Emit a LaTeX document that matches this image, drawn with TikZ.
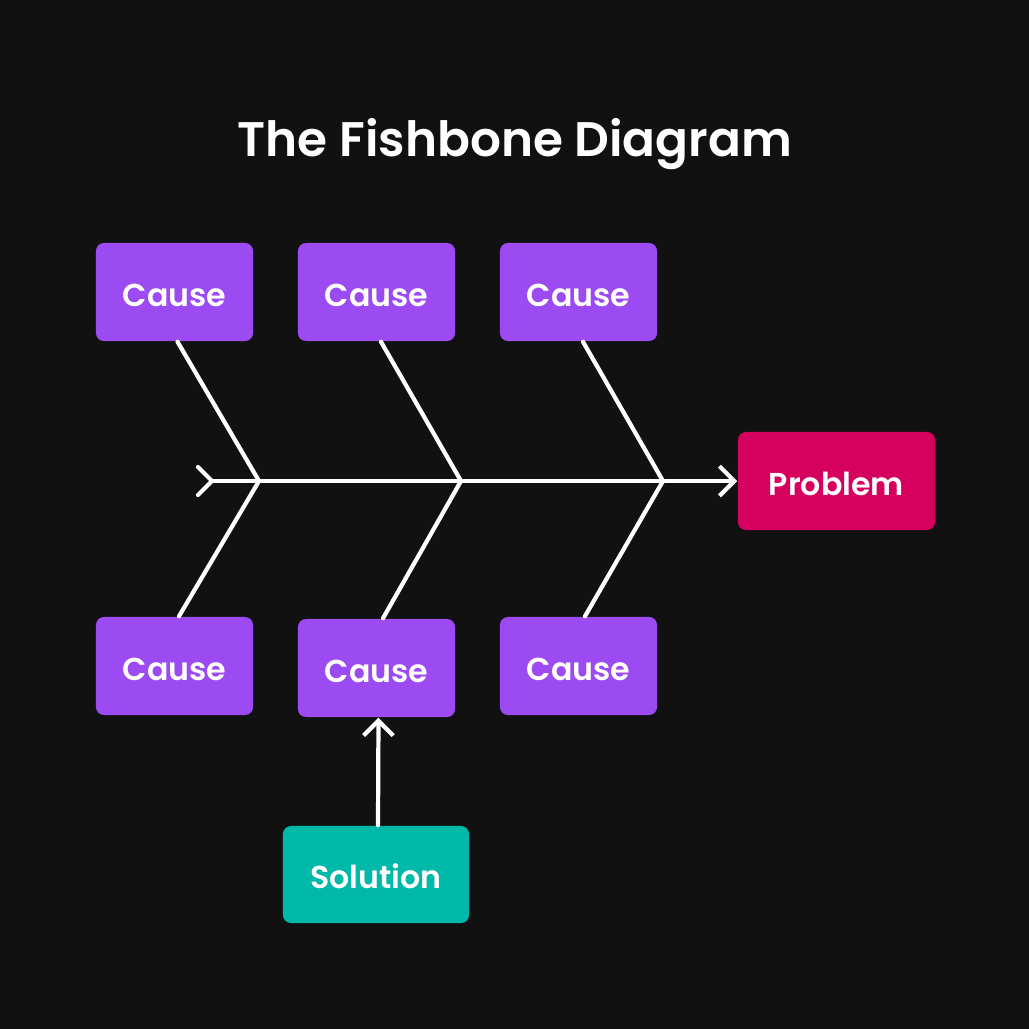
\documentclass[tikz,border=0pt]{standalone}
\usepackage{fontspec}
\setmainfont{Poppins}[BoldFont={* SemiBold}]
\usetikzlibrary{arrows.meta}
\definecolor{bg}{HTML}{111111}
\definecolor{causec}{HTML}{9C4AF2}
\definecolor{probc}{HTML}{D6005F}
\definecolor{solc}{HTML}{00B9A9}
\begin{document}
\begin{tikzpicture}[x=0.01cm,y=-0.01cm,
  box/.style={rounded corners=0.08cm, text=white, font=\fontsize{9pt}{11pt}\selectfont\bfseries, inner sep=0pt, text height=0.28cm, text depth=0pt},
  bone/.style={white, line width=1.2pt, line cap=round, line join=round},
  tip/.style={-{Straight Barb[length=4.2pt,width=8.4pt,line width=1.2pt]}}]
\fill[bg] (0,0) rectangle (1029,1029);
\useasboundingbox (0,0) rectangle (1029,1029);
\node[text=white, font=\fontsize{13.8pt}{16pt}\selectfont\bfseries] (title) at (515,144) {The Fishbone Diagram};
% boxes
\foreach \n/\x/\y in {t1/174.5/292, t2/376.5/292, t3/578.5/292, b1/174.5/666, b2/376.5/668, b3/578.5/666}{
  \node[box, fill=causec, minimum width=1.57cm, minimum height=0.98cm] (\n) at (\x,\y) {Cause};
}
\node[box, fill=probc, minimum width=1.97cm, minimum height=0.98cm] (prob) at (836.5,481) {Problem};
\node[box, fill=solc, minimum width=1.86cm, minimum height=0.97cm] (sol) at (376,874.5) {Solution};
% spine
\coordinate (tail) at (212,481);
\coordinate (j1) at (259,481);
\coordinate (j2) at (461,481);
\coordinate (j3) at (663,481);
\coordinate (ta) at (198,467);
\coordinate (tb) at (198,495);
\draw[bone] (ta) -- (tail) -- (tb);
\draw[bone, tip] (tail) -- (prob.west);
% bones
\draw[bone] ([xshift=0.03cm]t1.south) -- (j1) -- ([xshift=0.045cm]b1.north);
\draw[bone] ([xshift=0.045cm]t2.south) -- (j2) -- ([xshift=0.065cm]b2.north);
\draw[bone] ([xshift=0.045cm]t3.south) -- (j3) -- ([xshift=0.065cm]b3.north);
% solution arrow
\draw[bone, tip] ([xshift=0.02cm]sol.north) -- ([xshift=0.02cm]b2.south);
\end{tikzpicture}
\end{document}
